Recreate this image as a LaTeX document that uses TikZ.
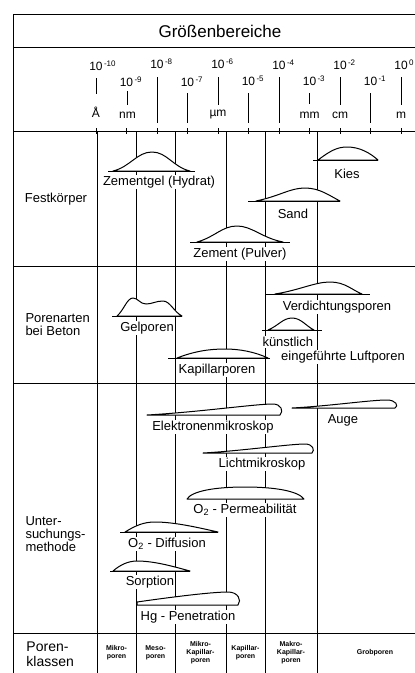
\documentclass[tikz,border=0pt]{standalone}
\usepackage{fontspec}
\setmainfont{Liberation Sans}
\begin{document}
\begin{tikzpicture}[x=1pt,y=-1pt,line width=1pt,
  lbl/.style={font=\fontsize{13}{15}\selectfont,fill=white,inner sep=1pt},
  side/.style={font=\fontsize{13}{15}\selectfont,align=left,anchor=west,inner sep=0pt},
  expo/.style={font=\fontsize{12}{13}\selectfont,inner sep=0pt},
  unit/.style={font=\fontsize{12}{13}\selectfont,inner sep=0pt},
  cls/.style={font=\fontsize{7}{8}\selectfont\bfseries,align=center,inner sep=0pt},
  curve/.style={draw,fill=white,line join=round},
  vline/.style={line width=1pt}]
\useasboundingbox (0,0) rectangle (415,673);

% frame and horizontal rules
\coordinate (tl) at (13,14);  \coordinate (tr) at (415,14);
\coordinate (hl) at (13,47);  \coordinate (hr) at (415,47);
\coordinate (al) at (13,131); \coordinate (ar) at (415,131);
\coordinate (s1l) at (13,266); \coordinate (s1r) at (415,266);
\coordinate (s2l) at (13,383); \coordinate (s2r) at (415,383);
\coordinate (s3l) at (13,633); \coordinate (s3r) at (415,633);
\coordinate (bl) at (13,673);
\draw (tl) -- (tr);
\draw (hl) -- (hr);
\draw (al) -- (ar);
\draw (s1l) -- (s1r);
\draw (s2l) -- (s2r);
\draw (s3l) -- (s3r);
\draw (tl) -- (bl);

\node[font=\fontsize{17}{19}\selectfont] (title) at (220,31) {Größenbereiche};

% vertical class boundaries
\foreach \x in {97,136,175,226,265,317} {
  \draw[vline] (\x,131) -- (\x,673);
}

% axis ticks
\foreach \k in {0,...,10} {
  \draw (96+30.5*\k,128) -- (96+30.5*\k,134);
}
% exponent labels
\foreach \k/\e/\yy in {0/-10/66,1/-9/82,2/-8/64,3/-7/82,4/-6/64,5/-5/81,6/-4/65,7/-3/81,8/-2/65,9/-1/81,10/0/65} {
  \node[expo] at (96+30.5*\k,\yy) {10\rlap{\textsuperscript{\,\e}}};
}
% marks above axis
\draw (96,78) -- (96,94);
\draw (127.5,91) -- (127.5,105);
\draw (157,77) -- (157,123);
\draw (187.5,93) -- (187.5,123);
\draw (218,77) -- (218,105);
\draw (248.5,93) -- (248.5,123);
\draw (279,77) -- (279,123);
\draw (309.5,93) -- (309.5,104);
\draw (340,77) -- (340,105);
\draw (370.5,93) -- (370.5,123);
\draw (401,77) -- (401,105);
\node[unit] (uA) at (96,112) {Å};
\node[unit] (unm) at (127.5,115) {nm};
\node[unit] (uum) at (218,115) {µm};
\node[unit] (umm) at (309.5,115) {mm};
\node[unit] (ucm) at (340,115) {cm};
\node[unit] (um) at (401,115) {m};

% ---------- Festkoerper ----------
\filldraw[curve] (113,171) .. controls (130,167) and (137,152) .. (152,152) .. controls (167,152) and (173,167) .. (190,171) -- cycle;
\draw (108,171) -- (195,171);
\node[lbl] (zg) at (159,182) {Zementgel (Hydrat)};

\filldraw[curve] (318,160) .. controls (330,151) and (337,147) .. (347,147) .. controls (360,147) and (370,153) .. (378,160) -- cycle;
\draw (313,160) -- (378,160);
\node[lbl] (kies) at (347,174) {Kies};

\filldraw[curve] (256,201) .. controls (280,196) and (290,188) .. (305,188) .. controls (320,188) and (330,196) .. (340,201) -- cycle;
\draw (248,201) -- (340,201);
\node[lbl] (sand) at (293,214) {Sand};

\filldraw[curve] (197,242) .. controls (215,237) and (222,226) .. (237,226) .. controls (252,226) and (262,238) .. (283,242) -- cycle;
\draw (190,242) -- (290,242);
\node[lbl] (zem) at (240,254) {Zement (Pulver)};

\node[side,align=center,anchor=center] (fk) at (56,199) {Festkörper};

% ---------- Porenarten ----------
\filldraw[curve] (117,316) .. controls (124,310) and (127,298) .. (133,298) .. controls (138,298) and (140,304) .. (146,304) .. controls (152,304) and (156,301) .. (163,301) .. controls (170,301) and (174,312) .. (182,316) -- cycle;
\draw (112,316) -- (182,316);
\node[lbl] (gel) at (147,328) {Gelporen};

\filldraw[curve] (275,294) .. controls (300,290) and (315,282) .. (330,282) .. controls (345,282) and (352,290) .. (362,294) -- cycle;
\draw (265,294) -- (370,294);
\node[lbl] (verd) at (337,307) {Verdichtungsporen};

\filldraw[curve] (268,330) .. controls (278,326) and (283,318) .. (292,318) .. controls (301,318) and (306,326) .. (314,330) -- cycle;
\draw (262,330) -- (322,330);
\node[lbl,anchor=west] (kuen) at (261,342) {künstlich};
\node[lbl] (einge) at (343,357) {eingeführte Luftporen};

\filldraw[curve] (177,358) .. controls (195,351) and (210,349) .. (225,349) .. controls (240,349) and (255,352) .. (268,358) -- cycle;
\draw (168,358) -- (270,358);
\node[lbl] (kap) at (217,370) {Kapillarporen};

\node[side] (pa) at (25,325) {Porenarten\\[-2pt]bei Beton};

% ---------- Untersuchungsmethode ----------
\filldraw[curve] (147,415) .. controls (200,412) and (255,404) .. (273,404) .. controls (281,404) and (284,411) .. (280,415) -- cycle;
\node[lbl] (em) at (213,427) {Elektronenmikroskop};

\filldraw[curve] (292,408) .. controls (330,406) and (370,400) .. (387,400) .. controls (396,400) and (399,406) .. (395,408) -- cycle;
\node[lbl] (auge) at (343,420) {Auge};

\filldraw[curve] (203,453) .. controls (240,451) and (290,444) .. (305,444) .. controls (313,444) and (315,450) .. (312,453) -- cycle;
\node[lbl] (lm) at (262,464) {Lichtmikroskop};

\filldraw[curve] (187,499) .. controls (192,491) and (215,487) .. (245,487) .. controls (275,487) and (298,491) .. (304,499) -- cycle;
\node[lbl] (perm) at (245,510) {O\textsubscript{2} - Permeabilität};

\filldraw[curve] (125,532) .. controls (135,526) and (143,522) .. (155,522) .. controls (175,522) and (200,528) .. (218,532) -- cycle;
\draw (120,532) -- (218,532);
\node[lbl] (diff) at (167,544) {O\textsubscript{2} - Diffusion};

\filldraw[curve] (113,571) .. controls (120,565) and (128,561) .. (137,561) .. controls (155,561) and (175,567) .. (190,571) -- cycle;
\draw (110,571) -- (190,571);
\node[lbl] (sorp) at (150,582) {Sorption};

\filldraw[curve] (137,605) -- (137,602) .. controls (165,598) and (210,592) .. (228,592) .. controls (238,592) and (242,600) .. (238,605) -- cycle;
\node[lbl] (hg) at (188,617) {Hg - Penetration};

\node[side] (um2) at (25,534) {Unter-\\[-2pt]suchungs-\\[-2pt]methode};

% ---------- Porenklassen ----------
\node[side,font=\fontsize{14}{15}\selectfont] (pk) at (26,654) {Poren-\\klassen};
\node[cls] (c1) at (116.5,653) {Mikro-\\poren};
\node[cls] (c2) at (155.5,653) {Meso-\\poren};
\node[cls] (c3) at (200.5,653) {Mikro-\\Kapillar-\\poren};
\node[cls] (c4) at (245.5,653) {Kapillar-\\poren};
\node[cls] (c5) at (291,653) {Makro-\\Kapillar-\\poren};
\node[cls] (c6) at (375,653) {Grobporen};
\end{tikzpicture}
\end{document}
